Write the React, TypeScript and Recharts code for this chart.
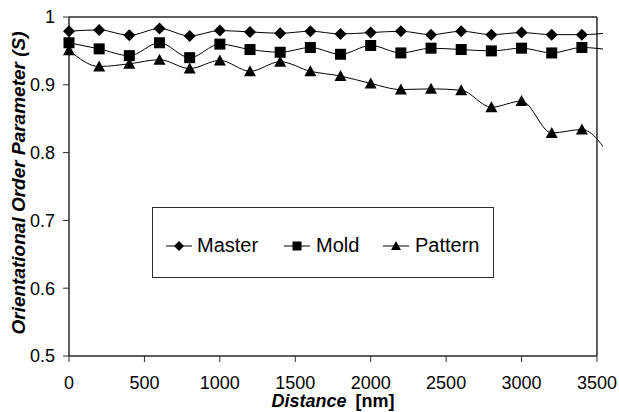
import React from "react";
import { LineChart, Line, XAxis, YAxis, ReferenceLine } from "recharts";

// distance along the sample (nm); last point lies past the axis end and gets clipped
const distance = [0, 200, 400, 600, 800, 1000, 1200, 1400, 1600, 1800, 2000, 2200, 2400, 2600, 2800, 3000, 3200, 3400, 3600];
const master = [0.979, 0.981, 0.973, 0.983, 0.972, 0.98, 0.978, 0.976, 0.979, 0.975, 0.977, 0.979, 0.974, 0.979, 0.974, 0.977, 0.974, 0.974, 0.977];
const mold = [0.962, 0.953, 0.943, 0.962, 0.94, 0.96, 0.952, 0.948, 0.955, 0.945, 0.958, 0.947, 0.954, 0.952, 0.95, 0.954, 0.947, 0.955, 0.951];
const pattern = [0.951, 0.927, 0.931, 0.937, 0.924, 0.936, 0.92, 0.934, 0.92, 0.913, 0.902, 0.893, 0.894, 0.892, 0.867, 0.876, 0.829, 0.834, 0.79];

const xTicks = [0, 500, 1000, 1500, 2000, 2500, 3000, 3500];
const yTicks = [0.5, 0.6, 0.7, 0.8, 0.9, 1];
const seriesNames = ["Master", "Mold", "Pattern"];

const data = distance.map((d, i) => ({
  distance: d,
  master: master[i],
  mold: mold[i],
  pattern: pattern[i],
}));
// markers only for the visible points, drawn on an unclipped twin axis
const markerData = data.filter((d) => d.distance <= 3500);

const FONT = "'Liberation Sans', Arial, sans-serif";
const FRAME = "#2a2a2a";
const X_DOMAIN = [0, 3540];

const Diamond = ({ cx, cy, r = 6 }: any) => (
  <polygon points={`${cx},${cy - r} ${cx + r},${cy} ${cx},${cy + r} ${cx - r},${cy}`} fill="#000" />
);
const Square = ({ cx, cy, r = 5.5 }: any) => (
  <rect x={cx - r} y={cy - r} width={r * 2} height={r * 2} fill="#000" />
);
const Triangle = ({ cx, cy, r = 6 }: any) => (
  <polygon points={`${cx},${cy - r} ${cx + r},${cy + r - 1} ${cx - r},${cy + r - 1}`} fill="#000" />
);

const markers = [Diamond, Square, Triangle];

function LegendBox() {
  const items = [
    { left: 13, textLeft: 44 },
    { left: 131, textLeft: 163 },
    { left: 230, textLeft: 262 },
  ];
  return (
    <div
      style={{
        position: "absolute",
        left: 152,
        top: 207,
        width: 340,
        height: 69,
        border: `1px solid ${FRAME}`,
        background: "#fff",
        fontFamily: FONT,
        fontSize: 20,
      }}
    >
      {items.map((it, i) => {
        const M = markers[i];
        return (
          <React.Fragment key={i}>
            <svg style={{ position: "absolute", left: it.left, top: 28 }} width={26} height={20}>
              <line x1={0} y1={10} x2={26} y2={10} stroke="#000" strokeWidth={1} />
              <M cx={13} cy={10} r={i === 1 ? 4.5 : 5} />
            </svg>
            <span style={{ position: "absolute", left: it.textLeft, top: 25, lineHeight: "24px" }}>
              {seriesNames[i]}
            </span>
          </React.Fragment>
        );
      })}
    </div>
  );
}

export default function App() {
  const keys = ["master", "mold", "pattern"];
  return (
    <div style={{ position: "absolute", left: 0, top: 0, width: 619, height: 412, background: "#fff" }}>
      <LineChart width={619} height={412} data={data} margin={{ top: 17, right: 16, left: 0, bottom: 0 }}>
        <XAxis
          dataKey="distance"
          type="number"
          domain={X_DOMAIN}
          allowDataOverflow
          ticks={xTicks}
          height={56}
          axisLine={false}
          tickSize={6}
          tickMargin={14}
          tickLine={{ stroke: FRAME }}
          tick={{ fill: "#000", fontSize: 18, fontFamily: FONT }}
          label={{
            content: () => (
              <text x={333} y={407} textAnchor="middle" fontFamily={FONT} fontSize={18} fontWeight="bold" fill="#000">
                <tspan fontStyle="italic">Distance</tspan>
                <tspan dx={9}>[nm]</tspan>
              </text>
            ),
          }}
        />
        <XAxis xAxisId="m" dataKey="distance" type="number" domain={X_DOMAIN} hide />
        <YAxis
          type="number"
          domain={[0.5, 1]}
          ticks={yTicks}
          width={69}
          axisLine={{ stroke: FRAME, strokeWidth: 1.5 }}
          tickSize={6}
          tickMargin={8}
          tickLine={{ stroke: FRAME }}
          tickFormatter={(v: number) => (v === 1 ? "1" : v.toFixed(1))}
          tick={{ fill: "#000", fontSize: 18, fontFamily: FONT }}
          label={{
            content: () => (
              <text
                x={25}
                y={183}
                transform="rotate(-90 25 183)"
                textAnchor="middle"
                fontFamily={FONT}
                fontSize={19}
                fontWeight="bold"
                fontStyle="italic"
                fill="#000"
              >
                Orientational Order Parameter (S)
              </text>
            ),
          }}
        />
        <ReferenceLine segment={[{ x: 0, y: 0.5 }, { x: 3500, y: 0.5 }]} stroke={FRAME} strokeWidth={1.5} />
        <ReferenceLine segment={[{ x: 0, y: 1 }, { x: 3500, y: 1 }]} stroke={FRAME} strokeWidth={1.5} />
        <ReferenceLine segment={[{ x: 3500, y: 0.5 }, { x: 3500, y: 1 }]} stroke={FRAME} strokeWidth={1.5} />
        {keys.map((k) => (
          <Line
            key={k}
            dataKey={k}
            type="monotone"
            stroke="#000"
            strokeWidth={1}
            isAnimationActive={false}
            dot={false}
            activeDot={false}
          />
        ))}
        {keys.map((k, i) => {
          const M = markers[i];
          return (
            <Line
              key={`${k}-markers`}
              xAxisId="m"
              data={markerData}
              dataKey={k}
              stroke="none"
              isAnimationActive={false}
              dot={(p: any) => <M key={`${k}-${p.index}`} cx={p.cx} cy={p.cy} />}
              activeDot={false}
            />
          );
        })}
      </LineChart>
      <LegendBox />
    </div>
  );
}
